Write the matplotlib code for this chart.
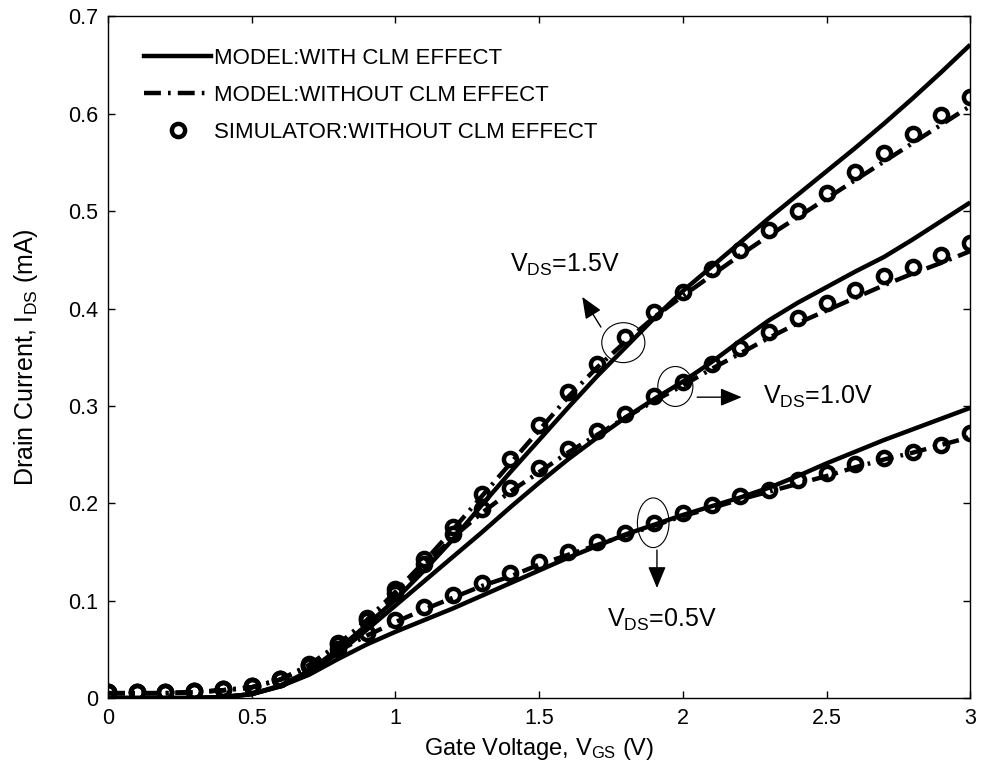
import numpy as np
import matplotlib
matplotlib.use("Agg")
import matplotlib.pyplot as plt
from matplotlib.patches import Ellipse
from matplotlib.ticker import FormatStrFormatter

plt.rcParams['font.family'] = ['Liberation Sans', 'DejaVu Sans']
plt.rcParams['mathtext.default'] = 'regular'

# gate voltage sweep (V)
vgs = [0.0, 0.1, 0.2, 0.3, 0.4, 0.5, 0.6, 0.7, 0.8, 0.9, 1.0,
       1.1, 1.2, 1.3, 1.4, 1.5, 1.6, 1.7, 1.8, 1.9, 2.0,
       2.1, 2.2, 2.3, 2.4, 2.5, 2.6, 2.7, 2.8, 2.9, 3.0]

# model with CLM effect (mA)
clm_15 = [0.000, 0.000, 0.000, 0.000, 0.001, 0.004, 0.013, 0.028, 0.050, 0.075, 0.101,
          0.131, 0.163, 0.198, 0.232, 0.265, 0.298, 0.330, 0.360, 0.390, 0.418,
          0.443, 0.468, 0.493, 0.517, 0.541, 0.565, 0.590, 0.616, 0.643, 0.671]
clm_10 = [0.000, 0.000, 0.000, 0.000, 0.001, 0.004, 0.012, 0.026, 0.046, 0.070, 0.095,
          0.120, 0.145, 0.170, 0.196, 0.221, 0.245, 0.267, 0.288, 0.307, 0.325,
          0.345, 0.367, 0.388, 0.406, 0.422, 0.438, 0.453, 0.471, 0.490, 0.509]
clm_05 = [0.000, 0.000, 0.000, 0.000, 0.001, 0.004, 0.012, 0.024, 0.040, 0.055, 0.068,
          0.080, 0.092, 0.105, 0.118, 0.131, 0.144, 0.156, 0.168, 0.178, 0.188,
          0.197, 0.206, 0.216, 0.228, 0.241, 0.253, 0.265, 0.276, 0.287, 0.298]

# model without CLM effect (mA)
noclm_15 = [0.005, 0.005, 0.005, 0.006, 0.008, 0.011, 0.019, 0.034, 0.055, 0.080, 0.109,
            0.140, 0.173, 0.207, 0.241, 0.275, 0.309, 0.339, 0.366, 0.391, 0.413,
            0.434, 0.455, 0.475, 0.494, 0.513, 0.532, 0.551, 0.570, 0.589, 0.608]
noclm_10 = [0.005, 0.005, 0.005, 0.006, 0.008, 0.011, 0.019, 0.033, 0.053, 0.076, 0.105,
            0.135, 0.165, 0.190, 0.212, 0.232, 0.252, 0.270, 0.288, 0.305, 0.321,
            0.338, 0.354, 0.370, 0.385, 0.398, 0.411, 0.424, 0.436, 0.447, 0.459]
noclm_05 = [0.005, 0.005, 0.005, 0.006, 0.008, 0.011, 0.019, 0.032, 0.048, 0.064, 0.078,
            0.091, 0.103, 0.115, 0.125, 0.137, 0.147, 0.157, 0.167, 0.177, 0.187,
            0.195, 0.204, 0.212, 0.220, 0.228, 0.237, 0.245, 0.252, 0.260, 0.268]

# simulator without CLM effect (mA)
sim_15 = [0.006, 0.006, 0.006, 0.007, 0.009, 0.012, 0.020, 0.035, 0.057, 0.082, 0.112,
          0.143, 0.176, 0.210, 0.245, 0.280, 0.314, 0.343, 0.371, 0.396, 0.417,
          0.441, 0.460, 0.481, 0.500, 0.519, 0.540, 0.560, 0.579, 0.599, 0.617]
sim_10 = [0.006, 0.006, 0.006, 0.007, 0.009, 0.012, 0.020, 0.034, 0.055, 0.080, 0.108,
          0.138, 0.168, 0.194, 0.216, 0.236, 0.256, 0.274, 0.292, 0.310, 0.325,
          0.343, 0.360, 0.376, 0.390, 0.406, 0.419, 0.433, 0.443, 0.455, 0.467]
sim_05 = [0.006, 0.006, 0.006, 0.007, 0.009, 0.012, 0.020, 0.033, 0.050, 0.067, 0.080,
          0.094, 0.106, 0.118, 0.128, 0.140, 0.150, 0.160, 0.170, 0.180, 0.190,
          0.198, 0.207, 0.214, 0.224, 0.231, 0.240, 0.247, 0.253, 0.260, 0.272]

fig = plt.figure(figsize=(9.82, 7.78), dpi=100)
ax = fig.add_axes([0.110, 0.1028, 0.878, 0.876])

lw = 3.2
dd = (3.8, 1.6, 0.6, 1.6)
ms = 9.5
for clm, noclm, sim in [(clm_15, noclm_15, sim_15),
                        (clm_10, noclm_10, sim_10),
                        (clm_05, noclm_05, sim_05)]:
    ax.plot(vgs, clm, color='black', lw=lw, solid_capstyle='butt')
    ax.plot(vgs, noclm, color='black', lw=lw, dashes=dd, dash_capstyle='butt')
    ax.plot(vgs, sim, linestyle='none', marker='o', ms=ms, mew=3.2,
            mec='black', mfc='none')

# legend proxies
h1, = ax.plot([], [], color='black', lw=lw)
h2, = ax.plot([], [], color='black', lw=lw, dashes=dd)
h3, = ax.plot([], [], linestyle='none', marker='o', ms=ms, mew=3.2,
              mec='black', mfc='none')
ax.legend([h1, h2, h3],
          ['MODEL:WITH CLM EFFECT', 'MODEL:WITHOUT CLM EFFECT',
           'SIMULATOR:WITHOUT CLM EFFECT'],
          loc='upper left', bbox_to_anchor=(0.019, 0.983), frameon=False,
          fontsize=16, handlelength=3.0, handletextpad=0.15, labelspacing=0.72,
          numpoints=1)

# curve markers: ellipses, arrows, labels
ax.add_patch(Ellipse((1.793, 0.365), 0.15, 0.041, fill=False, lw=0.8, ec='black'))
ax.add_patch(Ellipse((1.974, 0.320), 0.122, 0.041, fill=False, lw=0.8, ec='black'))
ax.add_patch(Ellipse((1.897, 0.180), 0.11, 0.051, fill=False, lw=0.8, ec='black'))

arr = dict(arrowstyle='-|>,head_length=0.6,head_width=0.25', color='black',
           lw=1.0, mutation_scale=22, shrinkA=0, shrinkB=0)
ax.annotate('', xy=(1.65, 0.412), xytext=(1.715, 0.381), arrowprops=arr)
ax.annotate('', xy=(2.205, 0.309), xytext=(2.05, 0.309), arrowprops=arr)
ax.annotate('', xy=(1.91, 0.113), xytext=(1.91, 0.152), arrowprops=arr)

ax.text(1.40, 0.445, 'V$_{DS}$=1.5V', fontsize=18, va='center')
ax.text(2.28, 0.309, 'V$_{DS}$=1.0V', fontsize=18, va='center')
ax.text(1.735, 0.080, 'V$_{DS}$=0.5V', fontsize=18, va='center')

ax.set_xlim(0, 3)
ax.set_ylim(0, 0.7)
ax.set_xticks([0, 0.5, 1, 1.5, 2, 2.5, 3])
ax.set_yticks([0, 0.1, 0.2, 0.3, 0.4, 0.5, 0.6, 0.7])
ax.xaxis.set_major_formatter(FormatStrFormatter('%g'))
ax.yaxis.set_major_formatter(FormatStrFormatter('%g'))
ax.tick_params(direction='in', top=True, right=True, length=5, width=1,
               labelsize=15.5, pad=7)
for sp in ax.spines.values():
    sp.set_linewidth(1.0)

ax.set_xlabel('Gate Voltage, V$_{GS}$ (V)', fontsize=17, labelpad=5)
ax.set_ylabel('Drain Current, I$_{DS}$ (mA)', fontsize=18, labelpad=20)

fig.savefig('out.png', dpi=100)
